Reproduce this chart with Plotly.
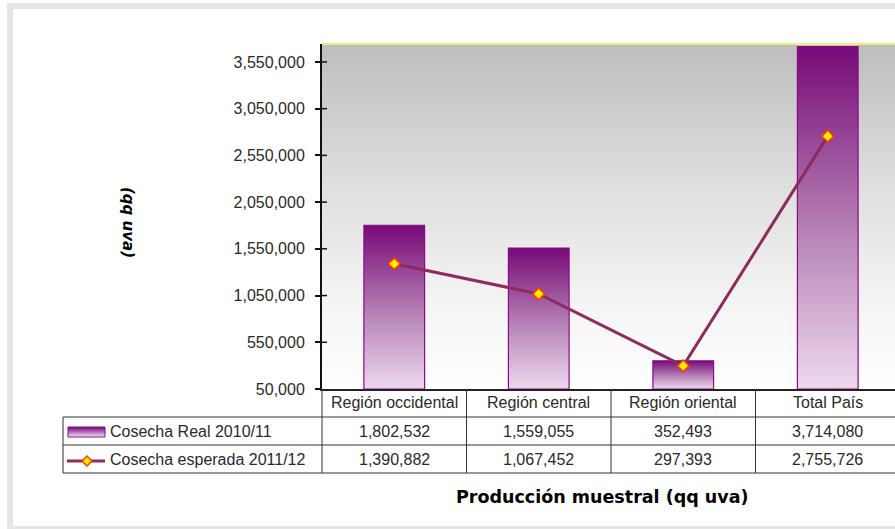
import plotly.graph_objects as go

# ---------------- data ----------------
categories = ["Región occidental", "Región central", "Región oriental", "Total País"]
series_names = ["Cosecha Real 2010/11", "Cosecha esperada 2011/12"]
real_2010_11 = [1802532, 1559055, 352493, 3714080]
esperada_2011_12 = [1390882, 1067452, 297393, 2755726]
y_tick_values = [50000, 550000, 1050000, 1550000, 2050000, 2550000, 3050000, 3550000]
y_title = "(qq uva)"
x_title = "Producción muestral (qq uva)"

# ---------------- layout geometry ----------------
W, H = 895, 529
L, T, B = 322, 44, 140
PW, PH = W - L, H - T - B
Y_MIN, Y_MAX = 50000, 3742000
COL_W = 144.5
X_MAX = -0.5 + PW / COL_W
BAR_HALF = 0.21


def px(x):
    return (x - L) / PW


def py(y):
    return 1 - (y - T) / PH


FONT = "Liberation Sans"
TXT = "#2a2a2a"
LINE_COL = "#8e2a5e"

fig = go.Figure()

# background gradient of the plotting area
fig.add_trace(go.Scatter(
    x=[-0.5, X_MAX + 0.1, X_MAX + 0.1, -0.5, -0.5],
    y=[Y_MIN, Y_MIN, Y_MAX, Y_MAX, Y_MIN],
    mode="lines", line=dict(width=0), fill="toself",
    fillgradient=dict(type="vertical",
                      colorscale=[[0, "#ffffff"], [0.25, "#f4f4f4"], [0.6, "#dedede"], [1, "#bdbdbd"]]),
    hoverinfo="skip", showlegend=False))

# bars (gradient filled)
bar_scale = [[0, "#eed8ee"], [0.45, "#b784b7"], [1, "#770a77"]]
for i, v in enumerate(real_2010_11):
    fig.add_trace(go.Scatter(
        x=[i - BAR_HALF, i + BAR_HALF, i + BAR_HALF, i - BAR_HALF, i - BAR_HALF],
        y=[Y_MIN, Y_MIN, v, v, Y_MIN],
        mode="lines", line=dict(width=1.2, color="#8a0a8a"), fill="toself",
        fillgradient=dict(type="vertical", colorscale=bar_scale),
        name=series_names[0], hovertemplate="%{y:,}<extra></extra>", showlegend=False))

# line series
fig.add_trace(go.Scatter(
    x=list(range(len(categories))), y=esperada_2011_12, mode="lines+markers",
    line=dict(color=LINE_COL, width=3),
    marker=dict(symbol="diamond", size=9, color="#ffee00", line=dict(color="#ff3a00", width=1.5)),
    name=series_names[1], showlegend=False, cliponaxis=False))

shapes = []
annotations = []

# outer frame
FR = "#e6e6e6"
shapes.append(dict(type="rect", xref="paper", yref="paper", x0=px(7), x1=px(13), y0=py(529), y1=py(3),
                   fillcolor=FR, line=dict(width=0), layer="below"))
shapes.append(dict(type="rect", xref="paper", yref="paper", x0=px(7), x1=px(W + 5), y0=py(9), y1=py(3),
                   fillcolor=FR, line=dict(width=0), layer="below"))
shapes.append(dict(type="rect", xref="paper", yref="paper", x0=px(7), x1=px(W + 5), y0=py(532), y1=py(526),
                   fillcolor=FR, line=dict(width=0), layer="below"))

# top yellow line
shapes.append(dict(type="line", xref="paper", yref="paper", x0=0, x1=1, y0=1, y1=1,
                   line=dict(color="#f2ee7a", width=2)))

# inner half of the crossing y ticks
for tv in y_tick_values[1:]:
    shapes.append(dict(type="line", xref="paper", yref="y", x0=0, x1=px(327), y0=tv, y1=tv,
                       line=dict(color="#111", width=1.5)))

# table
TL = "#333333"
row_lines = [417, 445, 473]
for r in row_lines:
    shapes.append(dict(type="line", xref="paper", yref="paper", x0=px(63), x1=1, y0=py(r), y1=py(r),
                       line=dict(color=TL, width=1)))
shapes.append(dict(type="line", xref="paper", yref="paper", x0=px(63), x1=px(63), y0=py(417), y1=py(473),
                   line=dict(color=TL, width=1)))
shapes.append(dict(type="line", xref="paper", yref="paper", x0=0, x1=0, y0=py(389), y1=py(473),
                   line=dict(color=TL, width=1)))
for i in range(1, len(categories)):
    shapes.append(dict(type="line", xref="x", yref="paper", x0=i - 0.5, x1=i - 0.5, y0=py(389), y1=py(473),
                       line=dict(color=TL, width=1)))

cell_font = dict(family=FONT, size=16, color=TXT)
for i, c in enumerate(categories):
    annotations.append(dict(x=i, y=py(403), xref="x", yref="paper", text=c, showarrow=False,
                            font=cell_font, xanchor="center", yanchor="middle"))
    annotations.append(dict(x=i, y=py(431), xref="x", yref="paper", text=f"{real_2010_11[i]:,}",
                            showarrow=False, font=cell_font, xanchor="center", yanchor="middle"))
    annotations.append(dict(x=i, y=py(459), xref="x", yref="paper", text=f"{esperada_2011_12[i]:,}",
                            showarrow=False, font=cell_font, xanchor="center", yanchor="middle"))

# legend keys inside table
annotations.append(dict(x=px(108), y=py(431), xref="paper", yref="paper", text=series_names[0],
                        showarrow=False, font=cell_font, xanchor="left", yanchor="middle"))
annotations.append(dict(x=px(108), y=py(459), xref="paper", yref="paper", text=series_names[1],
                        showarrow=False, font=cell_font, xanchor="left", yanchor="middle"))


def lerp(c1, c2, t):
    a = [int(c1[k:k + 2], 16) for k in (1, 3, 5)]
    b = [int(c2[k:k + 2], 16) for k in (1, 3, 5)]
    return "#" + "".join(f"{int(round(a[j] + (b[j] - a[j]) * t)):02x}" for j in range(3))


steps = 10
for s in range(steps):
    y0 = 427 + s
    shapes.append(dict(type="rect", xref="paper", yref="paper", x0=px(68), x1=px(105),
                       y0=py(y0 + 1), y1=py(y0), fillcolor=lerp("#7a0c7a", "#eed8ee", s / (steps - 1)),
                       line=dict(width=0)))
shapes.append(dict(type="rect", xref="paper", yref="paper", x0=px(68), x1=px(105), y0=py(437), y1=py(427),
                   line=dict(color="#8a0a8a", width=1)))
shapes.append(dict(type="line", xref="paper", yref="paper", x0=px(67), x1=px(105), y0=py(461), y1=py(461),
                   line=dict(color=LINE_COL, width=3)))
dx, dy = 5 / PW, 5 / PH
cx, cy = px(87), py(461)
shapes.append(dict(type="path", xref="paper", yref="paper",
                   path=f"M {cx - dx} {cy} L {cx} {cy + dy} L {cx + dx} {cy} L {cx} {cy - dy} Z",
                   fillcolor="#ffee00", line=dict(color="#ff3a00", width=1.5)))

# titles
annotations.append(dict(x=px(128), y=py(222), xref="paper", yref="paper", text=f"<b><i>{y_title}</i></b>",
                        showarrow=False, textangle=90, font=dict(family="DejaVu Sans", size=15, color="#000"),
                        xanchor="center", yanchor="middle"))
annotations.append(dict(x=px(602), y=py(497), xref="paper", yref="paper", text=f"<b>{x_title}</b>",
                        showarrow=False, font=dict(family="DejaVu Sans", size=17.5, color="#000"),
                        xanchor="center", yanchor="middle"))

fig.update_layout(
    width=W, height=H,
    margin=dict(l=L, r=0, t=T, b=B, pad=0),
    paper_bgcolor="#ffffff", plot_bgcolor="#ffffff",
    showlegend=False,
    shapes=shapes, annotations=annotations,
    xaxis=dict(range=[-0.5, X_MAX], showticklabels=False, showgrid=False, zeroline=False,
               showline=True, linecolor="#222", linewidth=1.5, ticks=""),
    yaxis=dict(range=[Y_MIN, Y_MAX], tickvals=y_tick_values, tickformat=",d",
               showgrid=False, zeroline=False, showline=True, linecolor="#111", linewidth=2,
               ticks="outside", ticklen=5, tickwidth=1.5, tickcolor="#111",
               ticklabelstandoff=7,
               tickfont=dict(family=FONT, size=16, color=TXT)),
)

fig.write_html("out.html", config={"displayModeBar": False},
               post_script="document.body.style.margin='0px';document.body.style.overflow='hidden';")
